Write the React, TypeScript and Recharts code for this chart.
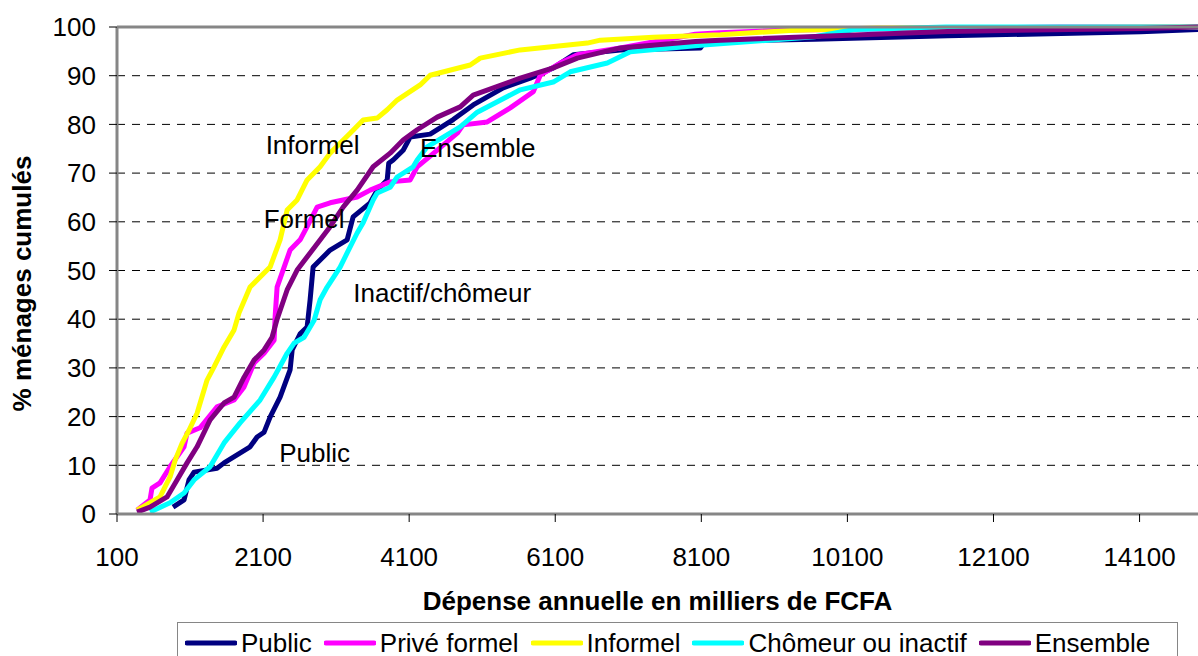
import React from 'react';
import { LineChart, Line, XAxis, YAxis, CartesianGrid, ReferenceLine, ReferenceDot } from 'recharts';

const FONT = '"Liberation Sans", Arial, Helvetica, sans-serif';

// axis ticks
const xTicks = [100, 2100, 4100, 6100, 8100, 10100, 12100, 14100];
const yTicks = [0, 10, 20, 30, 40, 50, 60, 70, 80, 90, 100];

// cumulative curves: [dépense, % ménages]
const publicPts: [number, number][] = [
  [867, 1.4], [1018, 2.9], [1086, 7], [1155, 8.6], [1470, 9.4], [1566, 10.5], [1922, 13.8],
  [2018, 15.8], [2114, 16.8], [2196, 19.9], [2333, 24], [2470, 29.6], [2498, 33.7], [2607, 37],
  [2703, 38.4], [2744, 44], [2785, 50.7], [3018, 54.2], [3251, 56.3], [3333, 61], [3566, 63.9],
  [3662, 66.5], [3799, 68.6], [3820, 72], [3881, 72.7], [4018, 74.7], [4114, 77.4], [4388, 78],
  [4703, 81], [4977, 84], [5388, 87.5], [5758, 89.5], [6073, 91.6], [6347, 94.3], [6991, 95.3],
  [8087, 95.7], [8150, 97], [9650, 97.5], [11471, 98.2], [14115, 99], [14900, 99.5],
];

const priveFormelPts: [number, number][] = [
  [374, 0.8], [552, 2.9], [579, 5.3], [689, 6.4], [826, 9.7], [1018, 13.8], [1059, 16.6],
  [1237, 17.7], [1470, 22], [1703, 23.4], [1840, 26.1], [1977, 31], [2114, 33], [2251, 35.7],
  [2265, 40.5], [2292, 46.6], [2470, 54.2], [2607, 56.3], [2703, 59], [2840, 63], [3018, 63.9],
  [3388, 65.1], [3566, 66.5], [3840, 68.2], [4114, 68.6], [4210, 71.3], [4388, 73.5], [4758, 78.2],
  [4840, 79.9], [5169, 80.5], [5484, 83.4], [5799, 86.7], [5895, 90.1], [6169, 92.6], [6402, 94.3],
  [6991, 95.7], [8019, 98.5], [8361, 98.8], [9320, 99.4], [11000, 99.7], [13000, 100], [14900, 100],
];

const informelPts: [number, number][] = [
  [374, 0.8], [689, 3.5], [826, 7.6], [895, 11], [990, 14.5], [1086, 17.2], [1196, 20.7],
  [1333, 27.5], [1429, 30.2], [1566, 34.3], [1703, 37.8], [1771, 41.3], [1922, 46.6], [2196, 50.7],
  [2333, 56.3], [2429, 62.4], [2566, 64.5], [2703, 68.6], [2881, 71.3], [3018, 74.1], [3292, 78.2],
  [3470, 80.9], [3662, 81.3], [3799, 83], [3936, 85], [4251, 88.1], [4388, 90.1], [4936, 92.2],
  [5073, 93.6], [5621, 95.3], [6539, 96.7], [6717, 97.3], [7443, 97.9], [8361, 98.4], [9320, 99.3],
  [10500, 99.8], [14900, 100],
];

const chomeurPts: [number, number][] = [
  [552, 0.4], [826, 2.3], [1018, 4.3], [1155, 7], [1374, 9.7], [1566, 14.6], [1785, 18.7],
  [2059, 23.4], [2251, 28.1], [2429, 33], [2525, 35.1], [2662, 36.3], [2799, 39.8], [2881, 44],
  [2977, 46.6], [3155, 50.7], [3251, 53.6], [3388, 57.7], [3470, 59.8], [3607, 64.5], [3662, 65.9],
  [3840, 67.1], [3936, 69.2], [4155, 71.3], [4210, 72.7], [4347, 75.4], [4799, 79.5], [5032, 82.5],
  [5621, 87.1], [6073, 88.7], [6306, 90.8], [6813, 92.6], [7128, 94.9], [8128, 96.3], [9650, 98],
  [10200, 99.5], [11450, 100], [14900, 100],
];

const ensemblePts: [number, number][] = [
  [374, 0.4], [552, 1.4], [785, 3.5], [922, 7], [1059, 10.5], [1196, 13.8], [1374, 19.3],
  [1566, 22.8], [1703, 24], [1840, 28.1], [1977, 31.6], [2114, 33.7], [2223, 36.3], [2292, 40],
  [2429, 46], [2566, 50.1], [2744, 53.6], [3018, 59], [3196, 63], [3388, 66.5], [3607, 71.3],
  [3840, 74.1], [4018, 76.8], [4210, 78.9], [4484, 81.5], [4799, 83.6], [4977, 86], [5621, 89.5],
  [6073, 91.6], [6402, 93.6], [6991, 95.7], [8019, 97], [8361, 97.3], [11471, 99.1], [14115, 99.7],
  [14900, 100],
];

const seriesNames = ['Public', 'Privé formel', 'Informel', 'Chômeur ou inactif', 'Ensemble'];
const seriesColors = ['#000080', '#FF00FF', '#FFFF00', '#00FFFF', '#800080'];
const seriesPts = [publicPts, priveFormelPts, informelPts, chomeurPts, ensemblePts];

// text labels written on the plot, placed in data units
const annotationTexts = ['Informel', 'Ensemble', 'Formel', 'Inactif/chômeur', 'Public'];
const annotationX = [2778, 5039, 2662, 4552, 2806];
const annotationY = [75.8, 75.3, 60.6, 45.4, 12.5];

const toRows = (pts: [number, number][]) => pts.map(([x, y]) => ({ x, y }));

const App: React.FC = () => {
  return (
    <div style={{ position: 'absolute', left: 0, top: 0, width: 1198, height: 656, background: '#fff', fontFamily: FONT }}>
      <LineChart width={1198} height={656} margin={{ top: 27, right: 0, bottom: 0, left: 0 }}>
        <CartesianGrid vertical={false} stroke="#000" strokeDasharray="8 7" />
        <XAxis
          dataKey="x"
          type="number"
          domain={[100, 14900]}
          ticks={xTicks}
          allowDataOverflow
          height={142}
          tickSize={8}
          tickMargin={26}
          axisLine={{ stroke: '#868686', strokeWidth: 3 }}
          tickLine={{ stroke: '#000' }}
          tick={{ fill: '#000', fontSize: 26, fontFamily: FONT }}
          label={{
            content: (p: any) => {
              const vb = p.viewBox;
              return (
                <text x={vb.x + vb.width / 2} y={vb.y + 96} textAnchor="middle" fontSize={26} fontWeight="bold" fontFamily={FONT} fill="#000">
                  Dépense annuelle en milliers de FCFA
                </text>
              );
            },
          }}
        />
        <YAxis
          type="number"
          domain={[0, 100]}
          ticks={yTicks}
          width={117}
          tickSize={8}
          tickMargin={13}
          axisLine={{ stroke: '#868686', strokeWidth: 3 }}
          tickLine={{ stroke: '#000' }}
          tick={{ fill: '#000', fontSize: 26, fontFamily: FONT }}
          label={{
            content: (p: any) => {
              const vb = p.viewBox;
              const cx = 22;
              const cy = vb.y + vb.height / 2 + 13;
              return (
                <text x={cx} y={cy} dy="0.36em" transform={`rotate(-90, ${cx}, ${cy})`} textAnchor="middle" fontSize={26} fontWeight="bold" fontFamily={FONT} fill="#000">
                  % ménages cumulés
                </text>
              );
            },
          }}
        />
        {seriesNames.map((name, i) => (
          <Line
            key={name}
            name={name}
            data={toRows(seriesPts[i])}
            dataKey="y"
            type="linear"
            stroke={seriesColors[i]}
            strokeWidth={5}
            strokeLinejoin="round"
            dot={false}
            activeDot={false}
            isAnimationActive={false}
          />
        ))}
        <ReferenceLine y={100} stroke="#868686" strokeWidth={3} />
        {annotationTexts.map((t, i) => (
          <ReferenceDot
            key={t}
            x={annotationX[i]}
            y={annotationY[i]}
            r={1}
            fill="none"
            stroke="none"
            label={{ value: t, position: 'center', fontSize: 26, fontFamily: FONT, fill: '#000' }}
          />
        ))}
      </LineChart>
      <div
        style={{
          position: 'absolute',
          left: 177,
          top: 622,
          width: 1001,
          height: 42,
          border: '1px solid #868686',
          boxSizing: 'border-box',
          display: 'flex',
          alignItems: 'center',
          paddingLeft: 7,
          fontSize: 26,
          color: '#000',
          background: '#fff',
        }}
      >
        {seriesNames.map((name, i) => (
          <div key={name} style={{ display: 'flex', alignItems: 'center', marginRight: 12 }}>
            <svg width={52} height={8}>
              <line x1={2} y1={4} x2={50} y2={4} stroke={seriesColors[i]} strokeWidth={5} strokeLinecap="round" />
            </svg>
            <span style={{ marginLeft: 4 }}>{name}</span>
          </div>
        ))}
      </div>
    </div>
  );
};

export default App;
